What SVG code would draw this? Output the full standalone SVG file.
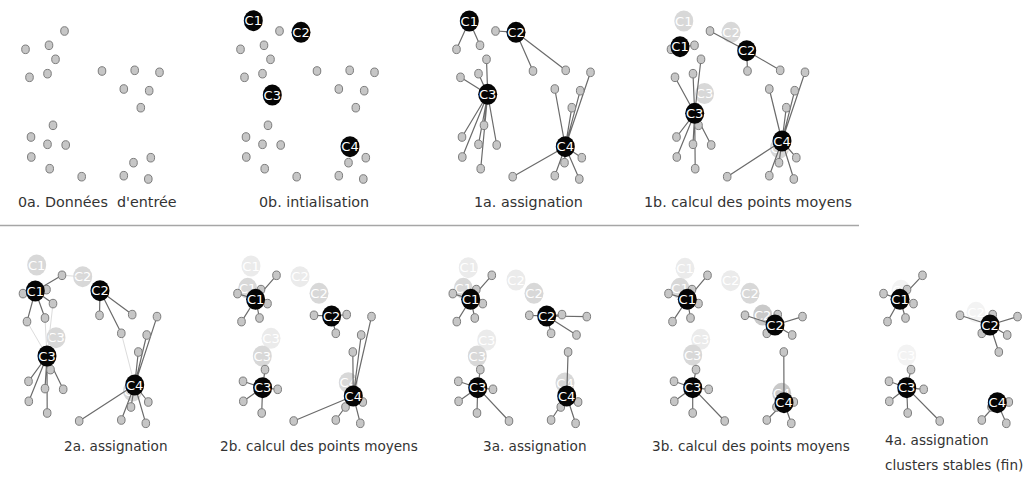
<svg xmlns="http://www.w3.org/2000/svg" xmlns:xlink="http://www.w3.org/1999/xlink" width="1026" height="477" viewBox="0 0 1026 477">
<style>
.pt ellipse{fill:#c6c6c6;stroke:#7c7c7c;stroke-width:1}
.e{fill:none;stroke:#6b6b6b;stroke-width:1.2}
.f{fill:none;stroke:#dcdcdc;stroke-width:1}
.cb{fill:#050505}
.g1{fill:#d8d8d8}
.g2{fill:#ebebeb}
.g3{fill:#f3f3f3}
.gm{fill:#c9c9c9}
.cl{font-family:"DejaVu Sans",sans-serif;font-size:13px;fill:#fff;text-anchor:middle}
.lab{font-family:"DejaVu Sans",sans-serif;font-size:14.3px;fill:#333}
.labb{font-family:"DejaVu Sans",sans-serif;font-size:13.6px;fill:#333}
</style>
<defs>
<g id="cloud" class="pt">
<ellipse cx="64.5" cy="31" rx="3.8" ry="4.3"/>
<ellipse cx="25.5" cy="49.3" rx="3.8" ry="4.3"/>
<ellipse cx="49" cy="45.3" rx="3.8" ry="4.3"/>
<ellipse cx="55.5" cy="59.3" rx="3.8" ry="4.3"/>
<ellipse cx="29.5" cy="77.3" rx="3.8" ry="4.3"/>
<ellipse cx="47.5" cy="73.7" rx="3.8" ry="4.3"/>
<ellipse cx="102" cy="71" rx="3.8" ry="4.3"/>
<ellipse cx="134.7" cy="70.3" rx="3.8" ry="4.3"/>
<ellipse cx="159.5" cy="72.3" rx="3.8" ry="4.3"/>
<ellipse cx="123.8" cy="89" rx="3.8" ry="4.3"/>
<ellipse cx="149.2" cy="90.7" rx="3.8" ry="4.3"/>
<ellipse cx="140.8" cy="107.7" rx="3.8" ry="4.3"/>
<ellipse cx="53" cy="125.3" rx="3.8" ry="4.3"/>
<ellipse cx="31" cy="137" rx="3.8" ry="4.3"/>
<ellipse cx="47.5" cy="144.3" rx="3.8" ry="4.3"/>
<ellipse cx="65.7" cy="145" rx="3.8" ry="4.3"/>
<ellipse cx="31.3" cy="157" rx="3.8" ry="4.3"/>
<ellipse cx="49.7" cy="168.7" rx="3.8" ry="4.3"/>
<ellipse cx="81.7" cy="176.7" rx="3.8" ry="4.3"/>
<ellipse cx="133.5" cy="162.7" rx="3.8" ry="4.3"/>
<ellipse cx="150.8" cy="157.7" rx="3.8" ry="4.3"/>
<ellipse cx="123.8" cy="175.7" rx="3.8" ry="4.3"/>
<ellipse cx="148.3" cy="179" rx="3.8" ry="4.3"/>
</g>
</defs>
<rect width="1026" height="477" fill="#fff"/>
<line id="separator" x1="0" y1="225.5" x2="859" y2="225.5" stroke="#a6a6a6" stroke-width="1.5"/>

<!-- 0a -->
<g id="panel-0a">
<use href="#cloud"/>
<text class="lab" x="18" y="207" xml:space="preserve">0a. Données  d'entrée</text>
</g>

<!-- 0b -->
<g id="panel-0b">
<g transform="translate(215,0)">
<use href="#cloud"/>
<g id="n0b-C1"><ellipse class="cb" cx="38.3" cy="20.7" rx="9.5" ry="10.5"/><text class="cl" x="38.3" y="25.4">C1</text></g>
<g id="n0b-C2"><ellipse class="cb" cx="86" cy="32.3" rx="9.5" ry="10.5"/><text class="cl" x="86" y="37">C2</text></g>
<g id="n0b-C3"><ellipse class="cb" cx="57.3" cy="95" rx="9.5" ry="10.5"/><text class="cl" x="57.3" y="99.7">C3</text></g>
<g id="n0b-C4"><ellipse class="cb" cx="135" cy="146.7" rx="9.5" ry="10.5"/><text class="cl" x="135" y="151.4">C4</text></g>
</g>
<text class="lab" x="259" y="207">0b. intialisation</text>
</g>

<!-- 1a -->
<g id="panel-1a">
<g transform="translate(431,0)">
<g id="edges-1a" class="e"><path d="M38.3 21L25.5 49.3M38.3 21L49 45.3M85 32.3L64.5 31M85 32.3L102 71M85 32.3L134.7 70.3M56.7 94.3L55.5 59.3M56.7 94.3L29.5 77.3M56.7 94.3L47.5 73.7M56.7 94.3L53 125.3M56.7 94.3L31 137M56.7 94.3L47.5 144.3M56.7 94.3L65.7 145M56.7 94.3L31.3 157M56.7 94.3L49.7 168.7M134.3 146.7L159.5 72.3M134.3 146.7L123.8 89M134.3 146.7L149.2 90.7M134.3 146.7L140.8 107.7M134.3 146.7L81.7 176.7M134.3 146.7L133.5 162.7M134.3 146.7L150.8 157.7M134.3 146.7L123.8 175.7M134.3 146.7L148.3 179"/></g>
<use href="#cloud"/>
<g id="n1a-C1"><ellipse class="cb" cx="38.3" cy="21" rx="9.5" ry="10.5"/><text class="cl" x="38.3" y="25.7">C1</text></g>
<g id="n1a-C2"><ellipse class="cb" cx="85" cy="32.3" rx="9.5" ry="10.5"/><text class="cl" x="85" y="37">C2</text></g>
<g id="n1a-C3"><ellipse class="cb" cx="56.7" cy="94.3" rx="9.5" ry="10.5"/><text class="cl" x="56.7" y="99">C3</text></g>
<g id="n1a-C4"><ellipse class="cb" cx="134.3" cy="146.7" rx="9.5" ry="10.5"/><text class="cl" x="134.3" y="151.4">C4</text></g>
</g>
<text class="lab" x="474" y="207">1a. assignation</text>
</g>

<!-- 1b -->
<g id="panel-1b">
<g transform="translate(645.5,0)">
<g id="ghosts-1b">
<g id="g1b-C1"><ellipse class="g1" cx="38.3" cy="21" rx="9.5" ry="10.5"/><text class="cl" x="38.3" y="25.7">C1</text></g>
<g id="g1b-C2"><ellipse class="g1" cx="85.5" cy="32.3" rx="9.5" ry="10.5"/><text class="cl" x="85.5" y="37">C2</text></g>
<g id="g1b-C3"><ellipse class="g1" cx="59" cy="93.5" rx="9.5" ry="10.5"/><text class="cl" x="59" y="98.2">C3</text></g>
<g id="g1b-C4"><ellipse class="g1" cx="134" cy="148" rx="9.5" ry="10.5"/><text class="cl" x="134" y="152.7">C4</text></g>
</g>
<g id="edges-1b" class="e"><path d="M34.5 46.7L25.5 49.3M34.5 46.7L49 45.3M101.2 50.7L64.5 31M101.2 50.7L102 71M101.2 50.7L134.7 70.3M49.2 113.3L55.5 59.3M49.2 113.3L29.5 77.3M49.2 113.3L47.5 73.7M49.2 113.3L53 125.3M49.2 113.3L31 137M49.2 113.3L47.5 144.3M49.2 113.3L65.7 145M49.2 113.3L31.3 157M49.2 113.3L49.7 168.7M136.5 141L159.5 72.3M136.5 141L123.8 89M136.5 141L149.2 90.7M136.5 141L140.8 107.7M136.5 141L81.7 176.7M136.5 141L133.5 162.7M136.5 141L150.8 157.7M136.5 141L123.8 175.7M136.5 141L148.3 179"/></g>
<use href="#cloud"/>
<g id="n1b-C1"><ellipse class="cb" cx="34.5" cy="46.7" rx="9.5" ry="10.5"/><text class="cl" x="34.5" y="51.4">C1</text></g>
<g id="n1b-C2"><ellipse class="cb" cx="101.2" cy="50.7" rx="9.5" ry="10.5"/><text class="cl" x="101.2" y="55.4">C2</text></g>
<g id="n1b-C3"><ellipse class="cb" cx="49.2" cy="113.3" rx="9.5" ry="10.5"/><text class="cl" x="49.2" y="118">C3</text></g>
<g id="n1b-C4"><ellipse class="cb" cx="136.5" cy="141" rx="9.5" ry="10.5"/><text class="cl" x="136.5" y="145.7">C4</text></g>
</g>
<text class="lab" x="644" y="207">1b. calcul des points moyens</text>
</g>

<!-- 2a -->
<g id="panel-2a">
<g transform="translate(-2.5,244.3)">
<g id="ghosts-2a">
<g id="g2a-C1"><ellipse class="g1" cx="39.2" cy="20.7" rx="9.5" ry="10.5"/><text class="cl" x="39.2" y="25.4">C1</text></g>
<g id="g2a-C2"><ellipse class="g1" cx="85.2" cy="32.4" rx="9.5" ry="10.5"/><text class="cl" x="85.2" y="37.1">C2</text></g>
<g id="g2a-C3"><ellipse class="g1" cx="58.5" cy="93.4" rx="9.5" ry="10.5"/><text class="cl" x="58.5" y="98.1">C3</text></g>
<g id="g2a-C4"><ellipse class="g1" cx="135" cy="146.7" rx="9.5" ry="10.5"/><text class="cl" x="135" y="151.4">C4</text></g>
</g>
<g id="edges-2a">
<path class="f" d="M55.5 59.3L49.5 111.7M29.5 77.3L49.5 111.7M47.5 73.7L49.5 111.7M123.8 89L137.2 140.7M64.5 31L85.2 32.4"/>
<path class="e" d="M37.8 46.7L64.5 31M37.8 46.7L25.5 49.3M37.8 46.7L49 45.3M37.8 46.7L55.5 59.3M37.8 46.7L29.5 77.3M37.8 46.7L47.5 73.7M102.5 46.4L102 71M102.5 46.4L134.7 70.3M102.5 46.4L123.8 89M49.5 111.7L53 125.3M49.5 111.7L31 137M49.5 111.7L47.5 144.3M49.5 111.7L65.7 145M49.5 111.7L31.3 157M49.5 111.7L49.7 168.7M137.2 140.7L159.5 72.3M137.2 140.7L149.2 90.7M137.2 140.7L140.8 107.7M137.2 140.7L81.7 176.7M137.2 140.7L133.5 162.7M137.2 140.7L150.8 157.7M137.2 140.7L123.8 175.7M137.2 140.7L148.3 179"/>
</g>
<use href="#cloud"/>
<g id="n2a-C1"><ellipse class="cb" cx="37.8" cy="46.7" rx="9.5" ry="10.5"/><text class="cl" x="37.8" y="51.4">C1</text></g>
<g id="n2a-C2"><ellipse class="cb" cx="102.5" cy="46.4" rx="9.5" ry="10.5"/><text class="cl" x="102.5" y="51.1">C2</text></g>
<g id="n2a-C3"><ellipse class="cb" cx="49.5" cy="111.7" rx="9.5" ry="10.5"/><text class="cl" x="49.5" y="116.4">C3</text></g>
<g id="n2a-C4"><ellipse class="cb" cx="137.2" cy="140.7" rx="9.5" ry="10.5"/><text class="cl" x="137.2" y="145.4">C4</text></g>
</g>
<text class="labb" x="64" y="451">2a. assignation</text>
</g>

<!-- 2b -->
<g id="panel-2b">
<g transform="translate(212,244.3)">
<g id="ghosts-2b">
<g id="g2b-C1a"><ellipse class="g2" cx="39" cy="21.7" rx="9.5" ry="10.5"/><text class="cl" x="39" y="26.4">C1</text></g>
<g id="g2b-C2a"><ellipse class="g2" cx="88" cy="32.4" rx="9.5" ry="10.5"/><text class="cl" x="88" y="37.1">C2</text></g>
<g id="g2b-C3a"><ellipse class="g2" cx="59" cy="94" rx="9.5" ry="10.5"/><text class="cl" x="59" y="98.7">C3</text></g>
<g id="g2b-C1b"><ellipse class="g1" cx="35.7" cy="44" rx="9.5" ry="10.5"/><text class="cl" x="35.7" y="48.7">C1</text></g>
<g id="g2b-C2b"><ellipse class="g1" cx="107" cy="49" rx="9.5" ry="10.5"/><text class="cl" x="107" y="53.7">C2</text></g>
<g id="g2b-C3b"><ellipse class="g1" cx="50.3" cy="111.7" rx="9.5" ry="10.5"/><text class="cl" x="50.3" y="116.4">C3</text></g>
<g id="g2b-C4b"><ellipse class="g1" cx="136.3" cy="138.4" rx="9.5" ry="10.5"/><text class="cl" x="136.3" y="143.1">C4</text></g>
</g>
<g id="edges-2b" class="e"><path d="M43.6 55L64.5 31M43.6 55L25.5 49.3M43.6 55L49 45.3M43.6 55L55.5 59.3M43.6 55L29.5 77.3M43.6 55L47.5 73.7M119.6 71.7L102 71M119.6 71.7L134.7 70.3M119.6 71.7L123.8 89M50.6 143.4L53 125.3M50.6 143.4L31 137M50.6 143.4L47.5 144.3M50.6 143.4L65.7 145M50.6 143.4L31.3 157M50.6 143.4L49.7 168.7M141.3 151.7L159.5 72.3M141.3 151.7L149.2 90.7M141.3 151.7L140.8 107.7M141.3 151.7L81.7 176.7M141.3 151.7L133.5 162.7M141.3 151.7L150.8 157.7M141.3 151.7L123.8 175.7M141.3 151.7L148.3 179"/></g>
<use href="#cloud"/>
<g id="n2b-C1"><ellipse class="cb" cx="43.6" cy="55" rx="9.5" ry="10.5"/><text class="cl" x="43.6" y="59.7">C1</text></g>
<g id="n2b-C2"><ellipse class="cb" cx="119.6" cy="71.7" rx="9.5" ry="10.5"/><text class="cl" x="119.6" y="76.4">C2</text></g>
<g id="n2b-C3"><ellipse class="cb" cx="50.6" cy="143.4" rx="9.5" ry="10.5"/><text class="cl" x="50.6" y="148.1">C3</text></g>
<g id="n2b-C4"><ellipse class="cb" cx="141.3" cy="151.7" rx="9.5" ry="10.5"/><text class="cl" x="141.3" y="156.4">C4</text></g>
</g>
<text class="labb" x="220" y="451">2b. calcul des points moyens</text>
</g>

<!-- 3a -->
<g id="panel-3a">
<g transform="translate(427.3,244.3)">
<g id="ghosts-3a">
<g id="g3a-C1a"><ellipse class="g2" cx="41" cy="23.4" rx="9.5" ry="10.5"/><text class="cl" x="41" y="28.1">C1</text></g>
<g id="g3a-C2a"><ellipse class="g2" cx="88.7" cy="35.7" rx="9.5" ry="10.5"/><text class="cl" x="88.7" y="40.4">C2</text></g>
<g id="g3a-C3a"><ellipse class="g2" cx="59.4" cy="95.7" rx="9.5" ry="10.5"/><text class="cl" x="59.4" y="100.4">C3</text></g>
<g id="g3a-C1b"><ellipse class="g1" cx="36" cy="44" rx="9.5" ry="10.5"/><text class="cl" x="36" y="48.7">C1</text></g>
<g id="g3a-C2b"><ellipse class="g1" cx="106.7" cy="49" rx="9.5" ry="10.5"/><text class="cl" x="106.7" y="53.7">C2</text></g>
<g id="g3a-C3b"><ellipse class="g1" cx="50" cy="111.7" rx="9.5" ry="10.5"/><text class="cl" x="50" y="116.4">C3</text></g>
<g id="g3a-C4b"><ellipse class="g1" cx="137.7" cy="138.7" rx="9.5" ry="10.5"/><text class="cl" x="137.7" y="143.4">C4</text></g>
</g>
<g id="edges-3a" class="e"><path d="M43.4 55L64.5 31M43.4 55L25.5 49.3M43.4 55L49 45.3M43.4 55L55.5 59.3M43.4 55L29.5 77.3M43.4 55L47.5 73.7M119.4 71.7L102 71M119.4 71.7L134.7 70.3M119.4 71.7L159.5 72.3M119.4 71.7L123.8 89M119.4 71.7L149.2 90.7M50.4 143.4L53 125.3M50.4 143.4L31 137M50.4 143.4L47.5 144.3M50.4 143.4L65.7 145M50.4 143.4L31.3 157M50.4 143.4L49.7 168.7M50.4 143.4L81.7 176.7M139.4 151.7L140.8 107.7M139.4 151.7L133.5 162.7M139.4 151.7L150.8 157.7M139.4 151.7L123.8 175.7M139.4 151.7L148.3 179"/></g>
<use href="#cloud"/>
<g id="n3a-C1"><ellipse class="cb" cx="43.4" cy="55" rx="9.5" ry="10.5"/><text class="cl" x="43.4" y="59.7">C1</text></g>
<g id="n3a-C2"><ellipse class="cb" cx="119.4" cy="71.7" rx="9.5" ry="10.5"/><text class="cl" x="119.4" y="76.4">C2</text></g>
<g id="n3a-C3"><ellipse class="cb" cx="50.4" cy="143.4" rx="9.5" ry="10.5"/><text class="cl" x="50.4" y="148.1">C3</text></g>
<g id="n3a-C4"><ellipse class="cb" cx="139.4" cy="151.7" rx="9.5" ry="10.5"/><text class="cl" x="139.4" y="156.4">C4</text></g>
</g>
<text class="labb" x="483" y="451">3a. assignation</text>
</g>

<!-- 3b -->
<g id="panel-3b">
<g transform="translate(643,244.3)">
<g id="ghosts-3b">
<g id="g3b-C1a"><ellipse class="g2" cx="42" cy="24" rx="9.5" ry="10.5"/><text class="cl" x="42" y="28.7">C1</text></g>
<g id="g3b-C2a"><ellipse class="g2" cx="87.7" cy="36.4" rx="9.5" ry="10.5"/><text class="cl" x="87.7" y="41.1">C2</text></g>
<g id="g3b-C3a"><ellipse class="g2" cx="57.7" cy="95" rx="9.5" ry="10.5"/><text class="cl" x="57.7" y="99.7">C3</text></g>
<g id="g3b-C1b"><ellipse class="g1" cx="37" cy="44" rx="9.5" ry="10.5"/><text class="cl" x="37" y="48.7">C1</text></g>
<g id="g3b-C2b"><ellipse class="g1" cx="107" cy="49" rx="9.5" ry="10.5"/><text class="cl" x="107" y="53.7">C2</text></g>
<g id="g3b-C3b"><ellipse class="g1" cx="49.7" cy="110.7" rx="9.5" ry="10.5"/><text class="cl" x="49.7" y="115.4">C3</text></g>
<g id="g3b-C2c"><ellipse class="gm" cx="119.7" cy="70.7" rx="9.5" ry="10.5"/><text class="cl" x="119.7" y="75.4">C2</text></g>
<g id="g3b-C4c"><ellipse class="gm" cx="138.7" cy="149" rx="9.5" ry="10.5"/><text class="cl" x="138.7" y="153.7">C4</text></g>
</g>
<g id="edges-3b" class="e"><path d="M44.3 55L64.5 31M44.3 55L25.5 49.3M44.3 55L49 45.3M44.3 55L55.5 59.3M44.3 55L29.5 77.3M44.3 55L47.5 73.7M132 80.7L102 71M132 80.7L134.7 70.3M132 80.7L159.5 72.3M132 80.7L123.8 89M132 80.7L149.2 90.7M49.7 143.4L53 125.3M49.7 143.4L31 137M49.7 143.4L47.5 144.3M49.7 143.4L65.7 145M49.7 143.4L31.3 157M49.7 143.4L49.7 168.7M49.7 143.4L81.7 176.7M141 158.4L140.8 107.7M141 158.4L133.5 162.7M141 158.4L150.8 157.7M141 158.4L123.8 175.7M141 158.4L148.3 179"/></g>
<use href="#cloud"/>
<g id="n3b-C1"><ellipse class="cb" cx="44.3" cy="55" rx="9.5" ry="10.5"/><text class="cl" x="44.3" y="59.7">C1</text></g>
<g id="n3b-C2"><ellipse class="cb" cx="132" cy="80.7" rx="9.5" ry="10.5"/><text class="cl" x="132" y="85.4">C2</text></g>
<g id="n3b-C3"><ellipse class="cb" cx="49.7" cy="143.4" rx="9.5" ry="10.5"/><text class="cl" x="49.7" y="148.1">C3</text></g>
<g id="n3b-C4"><ellipse class="cb" cx="141" cy="158.4" rx="9.5" ry="10.5"/><text class="cl" x="141" y="163.1">C4</text></g>
</g>
<text class="labb" x="652" y="451">3b. calcul des points moyens</text>
</g>

<!-- 4a -->
<g id="panel-4a">
<g transform="translate(858,244.3)">
<g id="ghosts-4a">
<g id="g4a-C1"><ellipse class="g3" cx="43" cy="46" rx="9.5" ry="10.5"/><text class="cl" x="43" y="50.7">C1</text></g>
<g id="g4a-C2"><ellipse class="g3" cx="118" cy="68" rx="9.5" ry="10.5"/><text class="cl" x="118" y="72.7">C2</text></g>
<g id="g4a-C3"><ellipse class="g3" cx="48.7" cy="110.7" rx="9.5" ry="10.5"/><text class="cl" x="48.7" y="115.4">C3</text></g>
</g>
<g id="edges-4a" class="e"><path d="M42 55L64.5 31M42 55L25.5 49.3M42 55L49 45.3M42 55L55.5 59.3M42 55L29.5 77.3M42 55L47.5 73.7M132 80.7L102 71M132 80.7L134.7 70.3M132 80.7L159.5 72.3M132 80.7L123.8 89M132 80.7L149.2 90.7M132 80.7L140.8 107.7M48.7 143.4L53 125.3M48.7 143.4L31 137M48.7 143.4L47.5 144.3M48.7 143.4L65.7 145M48.7 143.4L31.3 157M48.7 143.4L49.7 168.7M48.7 143.4L81.7 176.7M139.3 158.4L133.5 162.7M139.3 158.4L150.8 157.7M139.3 158.4L123.8 175.7M139.3 158.4L148.3 179"/></g>
<use href="#cloud"/>
<g id="n4a-C1"><ellipse class="cb" cx="42" cy="55" rx="9.5" ry="10.5"/><text class="cl" x="42" y="59.7">C1</text></g>
<g id="n4a-C2"><ellipse class="cb" cx="132" cy="80.7" rx="9.5" ry="10.5"/><text class="cl" x="132" y="85.4">C2</text></g>
<g id="n4a-C3"><ellipse class="cb" cx="48.7" cy="143.4" rx="9.5" ry="10.5"/><text class="cl" x="48.7" y="148.1">C3</text></g>
<g id="n4a-C4"><ellipse class="cb" cx="139.3" cy="158.4" rx="9.5" ry="10.5"/><text class="cl" x="139.3" y="163.1">C4</text></g>
</g>
<text class="labb" x="885" y="445">4a. assignation</text>
<text class="labb" x="885" y="470">clusters stables (fin)</text>
</g>
</svg>
